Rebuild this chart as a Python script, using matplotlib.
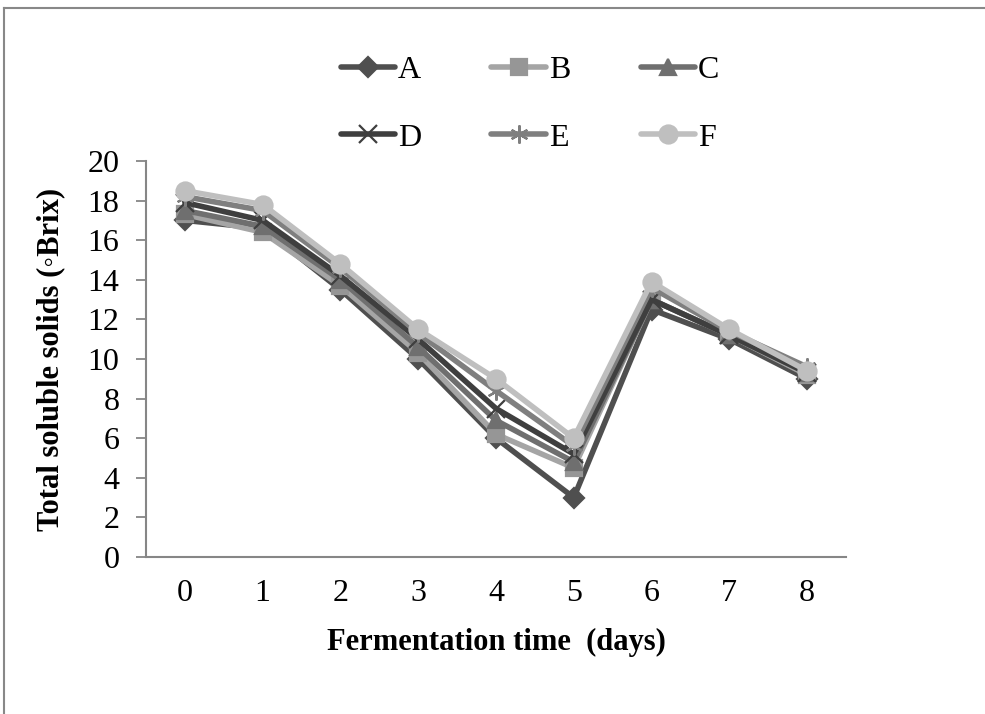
import matplotlib
matplotlib.use("Agg")
from matplotlib import pyplot as plt
from matplotlib.lines import Line2D

days = [0, 1, 2, 3, 4, 5, 6, 7, 8]
labels = ['A', 'B', 'C', 'D', 'E', 'F']
A = [17.0, 16.6, 13.5, 10.0, 6.0, 3.0, 12.5, 11.0, 9.0]
B = [17.3, 16.4, 13.7, 10.3, 6.2, 4.5, 13.0, 11.2, 9.2]
C = [17.5, 16.7, 14.0, 10.6, 6.9, 4.8, 13.0, 11.2, 9.3]
D = [17.9, 17.0, 14.2, 11.0, 7.5, 5.2, 13.0, 11.2, 9.3]
E = [18.2, 17.5, 14.6, 11.3, 8.4, 5.6, 13.6, 11.4, 9.6]
F = [18.5, 17.8, 14.8, 11.5, 9.0, 6.0, 13.9, 11.5, 9.4]

series = [A, B, C, D, E, F]
colors = ['#4f4f4f', '#a5a5a5', '#6f6f6f', '#3f3f3f', '#7f7f7f', '#bfbfbf']
mcolors = ['#4f4f4f', '#969696', '#6f6f6f', '#3f3f3f', '#7f7f7f', '#bfbfbf']
markers = ['D', 's', '^', 'x', (6, 2, 0), 'o']
msizes = [10, 11, 12, 13, 13, 13]

plt.rcParams['font.family'] = ['Liberation Serif', 'DejaVu Serif']

fig = plt.figure(figsize=(9.85, 7.14), dpi=100)
ax = fig.add_axes([146 / 985, 1 - 557 / 714, 700 / 985, 396 / 714])

handles = []
for s, lab, c, mc, m, ms in zip(series, labels, colors, mcolors, markers, msizes):
    h, = ax.plot(days, s, color=c, lw=4, marker=m, markersize=ms,
                 markerfacecolor=mc, markeredgecolor=mc, markeredgewidth=1.6,
                 solid_capstyle='round', label=lab)
    handles.append(h)

ax.set_xlim(-0.5, 8.5)
ax.set_ylim(0, 20)
ax.set_xticks(days)
ax.set_yticks(range(0, 21, 2))
ax.tick_params(axis='x', length=0, pad=16, labelsize=23)
ax.tick_params(axis='y', length=7, width=1.3, color='#868686', pad=12, labelsize=23)
for side in ['top', 'right']:
    ax.spines[side].set_visible(False)
for side in ['left', 'bottom']:
    ax.spines[side].set_color('#868686')
    ax.spines[side].set_linewidth(1.5)

ax.set_xlabel('Fermentation time  (days)', fontsize=22, fontweight='bold', labelpad=14)
ax.set_ylabel('Total soluble solids (\u25e6Brix)', fontsize=22, fontweight='bold', labelpad=16)

# legend is row-major in the original, matplotlib fills columns first
order = [0, 3, 1, 4, 2, 5]
fig.legend([handles[i] for i in order], [labels[i] for i in order],
           ncol=3, loc='center', bbox_to_anchor=(530 / 985, 1 - 104 / 714),
           frameon=False, fontsize=23, handlelength=1.7, handletextpad=0.1,
           columnspacing=2.2, labelspacing=1.2)

# outer frame (only top and left visible in the crop)
fig.add_artist(Line2D([4 / 985, 1], [1 - 7.5 / 714, 1 - 7.5 / 714], color='#888888', lw=1.5))
fig.add_artist(Line2D([4 / 985, 4 / 985], [0, 1 - 7.5 / 714], color='#888888', lw=1.5))

fig.savefig('out.png', dpi=100)
